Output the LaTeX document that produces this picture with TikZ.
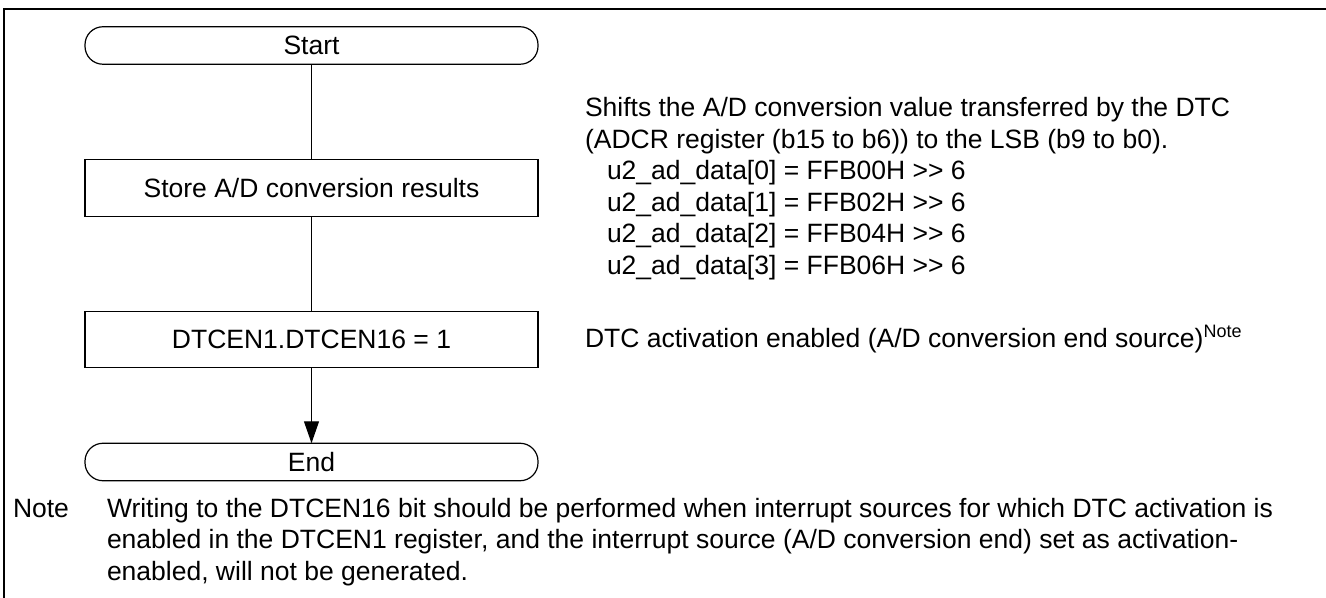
\documentclass[tikz,border=0pt]{standalone}
\usepackage{fontspec}
\setmainfont{Liberation Sans}
\usetikzlibrary{arrows.meta}
\begin{document}
\begin{tikzpicture}[x=0.5pt,y=-0.5pt,
  every node/.style={font=\fontsize{13.25}{15.75}\selectfont, inner sep=0pt, outer sep=0pt},
  term/.style={draw, line width=0.6pt, rounded corners=9pt, minimum width=226.5pt, minimum height=18.75pt},
  procbox/.style={draw, line width=0.6pt, minimum width=226.5pt, minimum height=28.25pt},
  txt/.style={anchor=base west},
  flow/.style={line width=0.6pt},
  frameline/.style={line width=1pt},
]
\useasboundingbox (0,0) rectangle (1326,598);

% outer frame (top and left edges)
\coordinate (fbl) at (4,598);
\coordinate (ftl) at (4,9);
\coordinate (ftr) at (1326,9);
\draw[frameline] (fbl) -- (ftl) -- (ftr);

% flowchart
\node[term]    (start) at (311.5,45.5)  {Start};
\node[procbox] (store) at (311.5,188)   {Store A/D conversion results};
\node[procbox] (dtcen) at (311.5,339.5) {DTCEN1.DTCEN16 = 1};
\node[term]    (fin)   at (311.5,462)   {End};

\draw[flow] (start.south) -- (store.north);
\draw[flow] (store.south) -- (dtcen.north);
\draw[flow, -{Triangle[length=11pt,width=7.5pt]}] (dtcen.south) -- (fin.north);

% comments beside the steps
\node[txt] (c1) at (585,117)   {Shifts the A/D conversion value transferred by the DTC};
\node[txt] (c2) at (585,148.5) {(ADCR register (b15 to b6)) to the LSB (b9 to b0).};
\node[txt] (c3) at (607,180)   {u2\_ad\_data[0] = FFB00H >{}> 6};
\node[txt] (c4) at (607,211.5) {u2\_ad\_data[1] = FFB02H >{}> 6};
\node[txt] (c5) at (607,243)   {u2\_ad\_data[2] = FFB04H >{}> 6};
\node[txt] (c6) at (607,274.5) {u2\_ad\_data[3] = FFB06H >{}> 6};
\node[txt] (c7) at (585,348)   {DTC activation enabled (A/D conversion end source)\raisebox{5.5pt}{\fontsize{9}{10}\selectfont Note}};

% footnote
\node[txt] (nlabel) at (13,517) {Note};
\node[txt] (n1) at (107,517)   {Writing to the DTCEN16 bit should be performed when interrupt sources for which DTC activation is};
\node[txt] (n2) at (107,548.5) {enabled in the DTCEN1 register, and the interrupt source (A/D conversion end) set as activation-};
\node[txt] (n3) at (107,580)   {enabled, will not be generated.};
\end{tikzpicture}
\end{document}
